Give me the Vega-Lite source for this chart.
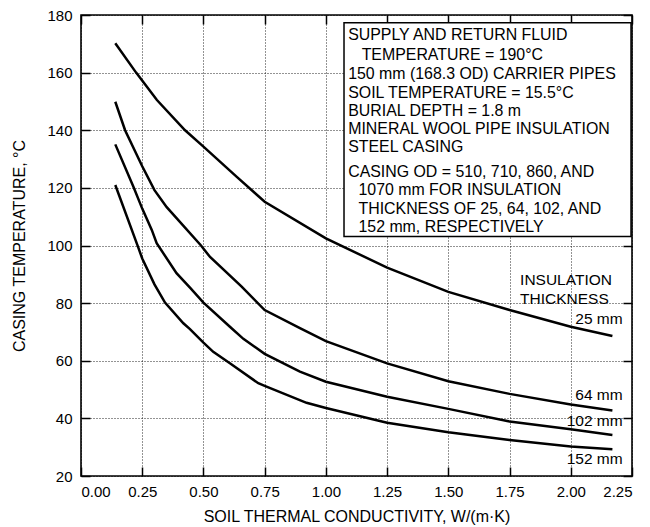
{
  "$schema": "https://vega.github.io/schema/vega-lite/v6.json",
  "width": 551,
  "height": 461,
  "autosize": "none",
  "padding": {"left": 81, "top": 15, "right": 18, "bottom": 51},
  "background": "white",
  "config": {
    "font": "Liberation Sans",
    "view": {"stroke": "black", "strokeWidth": 1.6},
    "axis": {
      "domain": false,
      "labelColor": "black",
      "labelFontSize": 15,
      "labelFont": "Liberation Sans",
      "tickColor": "black",
      "tickWidth": 1.5,
      "titleColor": "black",
      "titleFont": "Liberation Sans",
      "titleFontWeight": "normal",
      "titleFontSize": 16,
      "gridColor": "#000000",
      "gridDash": [1, 2],
      "gridWidth": 1,
      "gridOpacity": 0.85
    },
    "text": {"font": "Liberation Sans", "fontSize": 15.5, "color": "black"}
  },
  "datasets": {
    "box": [{"x1": 1.074, "x2": 2.246, "y1": 177.3, "y2": 103.1}],
    "boxText": [
      {"x": 1.091, "y": 173.1, "text": "SUPPLY AND RETURN FLUID"},
      {"x": 1.146, "y": 166.1, "text": "TEMPERATURE = 190°C"},
      {"x": 1.091, "y": 159.5, "text": "150 mm (168.3 OD) CARRIER PIPES"},
      {"x": 1.091, "y": 153.0, "text": "SOIL TEMPERATURE = 15.5°C"},
      {"x": 1.091, "y": 146.8, "text": "BURIAL DEPTH = 1.8 m"},
      {"x": 1.091, "y": 140.4, "text": "MINERAL WOOL PIPE INSULATION"},
      {"x": 1.091, "y": 134.3, "text": "STEEL CASING"},
      {"x": 1.091, "y": 125.4, "text": "CASING OD = 510, 710, 860, AND"},
      {"x": 1.133, "y": 119.3, "text": "1070 mm FOR INSULATION"},
      {"x": 1.133, "y": 112.7, "text": "THICKNESS OF 25, 64, 102, AND"},
      {"x": 1.133, "y": 106.3, "text": "152 mm, RESPECTIVELY"}
    ],
    "headLabels": [
      {"x": 1.793, "y": 88.0, "text": "INSULATION"},
      {"x": 1.793, "y": 81.3, "text": "THICKNESS"}
    ],
    "seriesLabels": [
      {"x": 2.212, "y": 74.4, "text": "25 mm"},
      {"x": 2.212, "y": 48.0, "text": "64 mm"},
      {"x": 2.212, "y": 39.2, "text": "102 mm"},
      {"x": 2.212, "y": 25.8, "text": "152 mm"}
    ],
    "curves": [
      {"s": "25 mm", "k": 0.14, "t": 170.2},
      {"s": "25 mm", "k": 0.225, "t": 160.0},
      {"s": "25 mm", "k": 0.31, "t": 150.5},
      {"s": "25 mm", "k": 0.425, "t": 140.0},
      {"s": "25 mm", "k": 0.5, "t": 134.3},
      {"s": "25 mm", "k": 0.635, "t": 123.9},
      {"s": "25 mm", "k": 0.75, "t": 115.2},
      {"s": "25 mm", "k": 1.0, "t": 102.5},
      {"s": "25 mm", "k": 1.25, "t": 92.3},
      {"s": "25 mm", "k": 1.5, "t": 83.9},
      {"s": "25 mm", "k": 1.75, "t": 77.6},
      {"s": "25 mm", "k": 2.0, "t": 71.8},
      {"s": "25 mm", "k": 2.17, "t": 68.6},
      {"s": "64 mm", "k": 0.14, "t": 149.9},
      {"s": "64 mm", "k": 0.18, "t": 140.0},
      {"s": "64 mm", "k": 0.25, "t": 127.5},
      {"s": "64 mm", "k": 0.3, "t": 119.2},
      {"s": "64 mm", "k": 0.35, "t": 113.3},
      {"s": "64 mm", "k": 0.49, "t": 100.0},
      {"s": "64 mm", "k": 0.527, "t": 96.0},
      {"s": "64 mm", "k": 0.656, "t": 85.7},
      {"s": "64 mm", "k": 0.75, "t": 77.6},
      {"s": "64 mm", "k": 0.894, "t": 71.3},
      {"s": "64 mm", "k": 1.0, "t": 66.8},
      {"s": "64 mm", "k": 1.25, "t": 59.1},
      {"s": "64 mm", "k": 1.5, "t": 52.9},
      {"s": "64 mm", "k": 1.75, "t": 48.5},
      {"s": "64 mm", "k": 2.0, "t": 44.8},
      {"s": "64 mm", "k": 2.17, "t": 42.7},
      {"s": "102 mm", "k": 0.14, "t": 135.1},
      {"s": "102 mm", "k": 0.214, "t": 120.4},
      {"s": "102 mm", "k": 0.25, "t": 112.8},
      {"s": "102 mm", "k": 0.289, "t": 105.4},
      {"s": "102 mm", "k": 0.309, "t": 100.8},
      {"s": "102 mm", "k": 0.39, "t": 90.4},
      {"s": "102 mm", "k": 0.445, "t": 85.4},
      {"s": "102 mm", "k": 0.5, "t": 80.2},
      {"s": "102 mm", "k": 0.608, "t": 71.8},
      {"s": "102 mm", "k": 0.663, "t": 67.6},
      {"s": "102 mm", "k": 0.75, "t": 62.4},
      {"s": "102 mm", "k": 0.894, "t": 56.2},
      {"s": "102 mm", "k": 1.0, "t": 52.7},
      {"s": "102 mm", "k": 1.25, "t": 47.5},
      {"s": "102 mm", "k": 1.5, "t": 43.3},
      {"s": "102 mm", "k": 1.75, "t": 38.9},
      {"s": "102 mm", "k": 2.0, "t": 36.2},
      {"s": "102 mm", "k": 2.17, "t": 34.2},
      {"s": "152 mm", "k": 0.14, "t": 121.0},
      {"s": "152 mm", "k": 0.23, "t": 100.2},
      {"s": "152 mm", "k": 0.25, "t": 95.5},
      {"s": "152 mm", "k": 0.3, "t": 86.5},
      {"s": "152 mm", "k": 0.343, "t": 80.2},
      {"s": "152 mm", "k": 0.418, "t": 73.0},
      {"s": "152 mm", "k": 0.445, "t": 71.0},
      {"s": "152 mm", "k": 0.5, "t": 66.3},
      {"s": "152 mm", "k": 0.54, "t": 63.1},
      {"s": "152 mm", "k": 0.608, "t": 59.1},
      {"s": "152 mm", "k": 0.724, "t": 52.2},
      {"s": "152 mm", "k": 0.75, "t": 51.3},
      {"s": "152 mm", "k": 0.921, "t": 45.4},
      {"s": "152 mm", "k": 1.0, "t": 43.6},
      {"s": "152 mm", "k": 1.25, "t": 38.5},
      {"s": "152 mm", "k": 1.5, "t": 35.2},
      {"s": "152 mm", "k": 1.75, "t": 32.5},
      {"s": "152 mm", "k": 2.0, "t": 30.2},
      {"s": "152 mm", "k": 2.17, "t": 29.3}
    ]
  },
  "layer": [
    {
      "data": {"name": "box"},
      "mark": {"type": "rect", "fill": "white", "stroke": "black", "strokeWidth": 1.5},
      "encoding": {
        "x": {
          "field": "x1", "type": "quantitative",
          "scale": {"domain": [0, 2.25], "nice": false, "zero": false},
          "axis": {"orient": "top", "values": [0, 0.25, 0.5, 0.75, 1, 1.25, 1.5, 1.75, 2, 2.25], "labels": false, "tickSize": -9, "grid": false, "title": null}
        },
        "x2": {"field": "x2"},
        "y": {
          "field": "y1", "type": "quantitative",
          "scale": {"domain": [20, 180], "nice": false, "zero": false},
          "axis": {"orient": "right", "values": [20, 40, 60, 80, 100, 120, 140, 160, 180], "labels": false, "tickSize": -9, "grid": false, "title": null}
        },
        "y2": {"field": "y2"}
      }
    },
    {
      "data": {"name": "curves"},
      "mark": {"type": "line", "color": "black", "strokeWidth": 2.5, "interpolate": "linear"},
      "encoding": {
        "x": {
          "field": "k", "type": "quantitative",
          "scale": {"domain": [0, 2.25], "nice": false, "zero": false},
          "axis": {"orient": "bottom", "values": [0, 0.25, 0.5, 0.75, 1, 1.25, 1.5, 1.75, 2, 2.25], "format": ".2f", "tickSize": -9, "grid": true, "labelPadding": 17, "title": "SOIL THERMAL CONDUCTIVITY, W/(m·K)", "titlePadding": 9}
        },
        "y": {
          "field": "t", "type": "quantitative",
          "scale": {"domain": [20, 180], "nice": false, "zero": false},
          "axis": {"orient": "left", "values": [20, 40, 60, 80, 100, 120, 140, 160, 180], "tickSize": -9, "grid": true, "labelPadding": 18, "title": "CASING TEMPERATURE, °C", "titlePadding": 19}
        },
        "detail": {"field": "s"}
      }
    },
    {
      "data": {"name": "boxText"},
      "mark": {"type": "text", "align": "left", "baseline": "middle", "fontSize": 15.9},
      "encoding": {
        "x": {"field": "x", "type": "quantitative", "axis": null},
        "y": {"field": "y", "type": "quantitative", "axis": null},
        "text": {"field": "text"}
      }
    },
    {
      "data": {"name": "headLabels"},
      "mark": {"type": "text", "align": "left", "baseline": "middle"},
      "encoding": {
        "x": {"field": "x", "type": "quantitative", "axis": null},
        "y": {"field": "y", "type": "quantitative", "axis": null},
        "text": {"field": "text"}
      }
    },
    {
      "data": {"name": "seriesLabels"},
      "mark": {"type": "text", "align": "right", "baseline": "middle"},
      "encoding": {
        "x": {"field": "x", "type": "quantitative", "axis": null},
        "y": {"field": "y", "type": "quantitative", "axis": null},
        "text": {"field": "text"}
      }
    }
  ],
  "resolve": {"axis": {"x": "independent", "y": "independent"}}
}
